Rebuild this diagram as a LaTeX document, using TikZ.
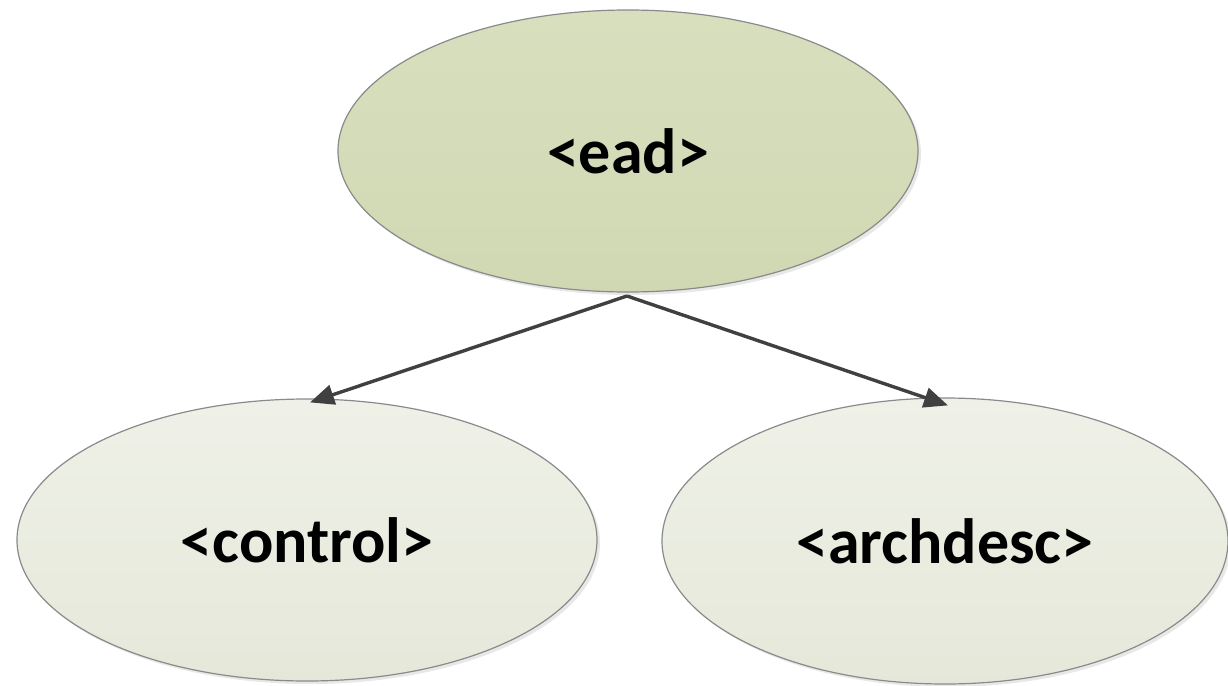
\documentclass[tikz,border=0pt]{standalone}
\usepackage{fontspec}
\setmainfont{Carlito}
\usetikzlibrary{shapes.geometric,arrows.meta,shadows}
\definecolor{topfillA}{HTML}{D7DFBE}
\definecolor{topfillB}{HTML}{D0D8B3}
\definecolor{botfillA}{HTML}{EFF1E8}
\definecolor{botfillB}{HTML}{E5E8D9}
\definecolor{edgegray}{HTML}{8A8A8A}
\definecolor{arrowgray}{HTML}{404040}
\tikzset{
  elem/.style={ellipse, draw=edgegray, line width=1.2pt, inner sep=0pt,
    font=\bfseries\fontsize{64}{72}\selectfont, text=black,
    drop shadow={opacity=0.18, shadow xshift=3pt, shadow yshift=-3pt}},
  rootelem/.style={elem, top color=topfillA, bottom color=topfillB},
  childelem/.style={elem, top color=botfillA, bottom color=botfillB},
  link/.style={draw=arrowgray, line width=3.4pt,
    -{Triangle[length=24pt, width=20pt]}}
}
\begin{document}
\begin{tikzpicture}[x=1pt, y=-1pt]
\useasboundingbox (0,0) rectangle (1228,685);
\node[rootelem, minimum width=580pt, minimum height=282pt] (ead) at (628,151) {<ead>};
\node[childelem, minimum width=580pt, minimum height=282pt] (ctrl) at (307,540) {<control>};
\node[childelem, minimum width=566pt, minimum height=286pt] (arch) at (945,541) {<archdesc>};
\coordinate (apex) at (627,296);
\draw[link] (apex) -- ([xshift=3pt,yshift=-4pt]ctrl.north);
\draw[link] (apex) -- ([xshift=3pt,yshift=-8pt]arch.north);
\end{tikzpicture}
\end{document}
